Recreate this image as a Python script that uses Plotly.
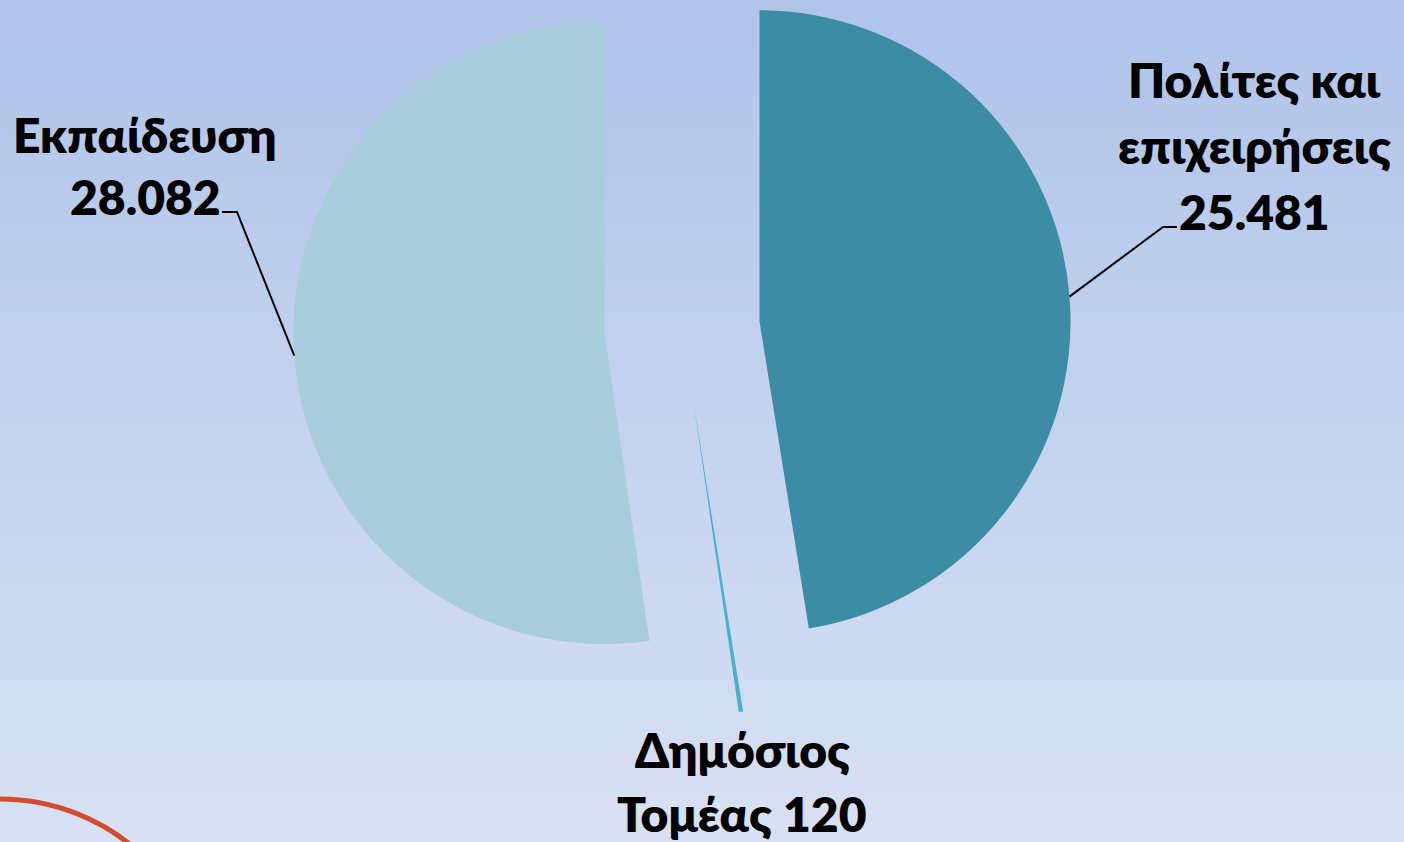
import numpy as np
import plotly.graph_objects as go

# ---- data ----
categories = ["Πολίτες και επιχειρήσεις", "Δημόσιος Τομέας", "Εκπαίδευση"]
values = [25481, 120, 28082]
value_text = ["25.481", "120", "28.082"]
label_lines = [["Πολίτες και", "επιχειρήσεις", "25.481"],
               ["Δημόσιος", "Τομέας 120"],
               ["Εκπαίδευση", "28.082"]]
slice_colors = ["#3c8ca3", "#4bb0c8", "#a9cddd"]

# ---- layout geometry (pixels) ----
W, H = 1404, 842
CX, CY = 682.0, 327.5      # undisplaced pie centre
R = 311.0                  # pie radius
PULL = 0.25                # explosion, fraction of radius

def px(x):
    return x / W

def py(y):
    return 1 - y / H

vals = np.array(values, dtype=float)
frac = vals / vals.sum()
start = np.concatenate([[0.0], np.cumsum(frac)[:-1]]) * 360.0
mid = np.radians(start + frac * 180.0)
ux, uy = np.sin(mid), -np.cos(mid)
centres = [(CX + PULL * R * ux[i], CY + PULL * R * uy[i]) for i in range(len(values))]

fig = go.Figure()

# background gradient
top_c = np.array([176, 196, 233])
bot_c = np.array([216, 225, 243])
nb = 70
shapes = []
for k in range(nb):
    t = k / (nb - 1)
    c = (top_c * (1 - t) + bot_c * t).round().astype(int)
    shapes.append(dict(type="rect", xref="paper", yref="paper", x0=0, x1=1,
                       y0=1 - (k + 1) / nb - 0.002, y1=1 - k / nb,
                       fillcolor=f"rgb({c[0]},{c[1]},{c[2]})", line=dict(width=0), layer="below"))

# decorative red circle bottom-left
shapes.append(dict(type="circle", xref="paper", yref="paper",
                   x0=px(-209), x1=px(209), y0=py(1217), y1=py(799),
                   line=dict(color="#d44b2e", width=5), fillcolor="rgba(0,0,0,0)", layer="below"))

# exploded slices: one pie trace per slice, each shifted along its bisector
for i in range(len(values)):
    cx, cy = centres[i]
    cols = [slice_colors[j] if j == i else "rgba(0,0,0,0)" for j in range(len(values))]
    fig.add_trace(go.Pie(
        labels=categories, values=values, sort=False, direction="clockwise", rotation=0,
        marker=dict(colors=cols, line=dict(width=0)),
        textinfo="none", hoverinfo="label+value", showlegend=False,
        domain=dict(x=[px(cx - R), px(cx + R)], y=[py(cy + R), py(cy - R)]),
    ))

# leader lines (start on the arc at each slice's bisector)
def arc_pt(i):
    cx, cy = centres[i]
    return cx + R * ux[i], cy + R * uy[i]

x0, y0 = arc_pt(0)
shapes.append(dict(type="path", xref="paper", yref="paper",
                   path=f"M {px(x0)},{py(y0)} L {px(1163)},{py(227)} L {px(1177)},{py(227)}",
                   line=dict(color="black", width=2)))
x2, y2 = arc_pt(2)
shapes.append(dict(type="path", xref="paper", yref="paper",
                   path=f"M {px(x2)},{py(y2)} L {px(237)},{py(212)} L {px(222)},{py(212)}",
                   line=dict(color="black", width=2)))

fig.update_layout(shapes=shapes)

# labels
FONT = dict(family="Lato, 'Open Sans', 'Noto Sans', sans-serif", size=48, color="black", weight=800)
label_pos = [(1254, [80, 145, 211]), (742, [749, 813]), (145, [135, 196])]
ann = []
for i, (xc, ys) in enumerate(label_pos):
    for line, yc in zip(label_lines[i], ys):
        ann.append(dict(text=line, x=px(xc), y=py(yc), xref="paper", yref="paper",
                        xanchor="center", yanchor="middle", showarrow=False, font=FONT))
fig.update_layout(annotations=ann)

fig.update_layout(width=W, height=H, margin=dict(l=0, r=0, t=0, b=0),
                  paper_bgcolor="#c4d2ee", plot_bgcolor="rgba(0,0,0,0)")

fig.write_html("out.html", config={"displayModeBar": False},
               post_script="document.body.style.margin='0';document.body.style.overflow='hidden';")
